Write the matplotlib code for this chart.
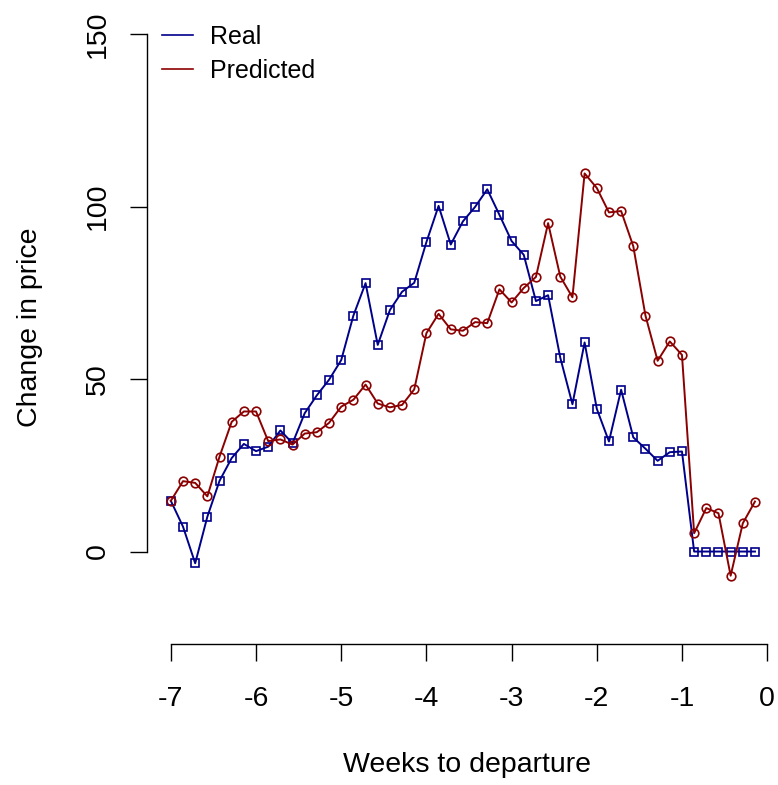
import numpy as np
import matplotlib.pyplot as plt

plt.rcParams['font.family'] = ['Liberation Sans', 'DejaVu Sans']

# days before departure, shown in weeks
days = np.arange(-49, 0)
weeks = days / 7.0

real = [14.7, 7.2, -3.4, 10.1, 20.5, 27.1, 31.2, 29.1, 30.4, 35.1,
        31.4, 40.1, 45.3, 49.8, 55.5, 68.4, 77.8, 59.9, 70.0, 75.3,
        77.9, 89.7, 100.2, 89.0, 95.7, 99.9, 105.0, 97.6, 90.0, 86.0,
        72.6, 74.3, 56.2, 42.7, 60.6, 41.4, 31.9, 46.9, 33.1, 29.8,
        26.3, 28.8, 29.0, 0, 0, 0, 0, 0, 0]

predicted = [14.7, 20.4, 19.9, 16.0, 27.5, 37.6, 40.6, 40.6, 32.0, 32.5,
             31.0, 34.2, 34.6, 37.3, 42.0, 44.0, 48.4, 42.9, 41.8, 42.5,
             47.0, 63.3, 68.9, 64.4, 64.0, 66.5, 66.2, 76.0, 72.2, 76.4,
             79.6, 95.2, 79.7, 73.7, 109.6, 105.4, 98.3, 98.7, 88.5, 68.4,
             55.3, 60.9, 57.0, 5.3, 12.6, 11.1, -7.0, 8.2, 14.5]

x_ticks = [-7, -6, -5, -4, -3, -2, -1, 0]
y_ticks = [0, 50, 100, 150]

W, H = 778, 785
fig = plt.figure(figsize=(W / 100, H / 100), dpi=100)
# R-style plot region: 4% padding around xlim (-7, 0) and ylim (-20, 150)
ax = fig.add_axes([147 / W, 1 - 644 / H, 644 / W, (644 - 10.6) / H])

ax.plot(weeks, real, color='#00008B', lw=1.4, marker='s', ms=5.6,
        mfc='none', mew=1.2, label='Real')
ax.plot(weeks, predicted, color='#8B0000', lw=1.4, marker='o', ms=6.2,
        mfc='none', mew=1.2, label='Predicted')

ax.set_xlim(-7.28, 0.28)
ax.set_ylim(-26.8, 156.8)

for s in ['top', 'right']:
    ax.spines[s].set_visible(False)
ax.spines['left'].set_bounds(0, 150)
ax.spines['bottom'].set_bounds(-7, 0)
for s in ['left', 'bottom']:
    ax.spines[s].set_linewidth(1.0)

ax.set_xticks(x_ticks)
ax.set_xticklabels([str(v) for v in x_ticks])
ax.set_yticks(y_ticks)
ax.set_yticklabels([str(v) for v in y_ticks], rotation=90, va='center')
ax.tick_params(axis='both', length=12.2, width=1.0, labelsize=20.5)
ax.tick_params(axis='x', pad=18)
ax.tick_params(axis='y', pad=14)

fig.text(30 / W, 1 - 327 / H, 'Change in price', rotation=90,
         ha='center', va='center', fontsize=20.5)
fig.text(467 / W, 1 - 765 / H, 'Weeks to departure',
         ha='center', va='center', fontsize=20.5)

leg = ax.legend(loc='upper left', bbox_to_anchor=(162 / W, 1 - 25 / H),
                bbox_transform=fig.transFigure, frameon=False, fontsize=18,
                handlelength=1.25, handletextpad=0.65, labelspacing=0.38,
                borderpad=0, borderaxespad=0)
for line in leg.get_lines():
    line.set_marker('')
    line.set_linewidth(1.2)

fig.savefig('out.png', dpi=100)
